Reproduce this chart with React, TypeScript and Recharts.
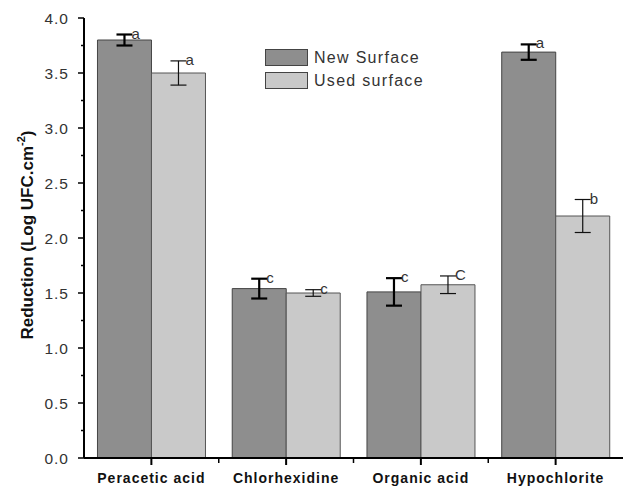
import React from "react"
import { BarChart, Bar, XAxis, YAxis, ErrorBar, LabelList, Legend } from "recharts"

const categories = ["Peracetic acid", "Chlorhexidine", "Organic acid", "Hypochlorite"]
const newSurface = [3.8, 1.54, 1.51, 3.69]
const newErr = [0.05, 0.09, 0.125, 0.07]
const newLetters = ["a", "c", "c", "a"]
const usedSurface = [3.5, 1.5, 1.575, 2.2]
const usedErr = [0.11, 0.03, 0.08, 0.15]
const usedLetters = ["a", "c", "C", "b"]
const yTicks = [0, 0.25, 0.5, 0.75, 1, 1.25, 1.5, 1.75, 2, 2.25, 2.5, 2.75, 3, 3.25, 3.5, 3.75, 4]

const data = categories.map((name, i) => ({
  name,
  newS: newSurface[i],
  newErr: newErr[i],
  used: usedSurface[i],
  usedErr: usedErr[i],
}))

const FONT = "'Liberation Sans', Arial, sans-serif"
const DARK = "#8e8e8e"
const LIGHT = "#c9c9c9"

function YTick(props: any) {
  const { x, y, payload } = props
  const v = payload.value as number
  const major = Math.abs(v * 2 - Math.round(v * 2)) < 1e-6
  return (
    <g>
      <line x1={x} x2={x - (major ? 6 : 3)} y1={y} y2={y} stroke="#000" strokeWidth={1.5} />
      {major && (
        <text x={x - 15} y={y + 5.5} textAnchor="end" fontSize={15.5} fill="#333" fontFamily={FONT} letterSpacing={1}>
          {v.toFixed(1)}
        </text>
      )}
    </g>
  )
}

function XTick(props: any) {
  const { x, y, payload, index } = props
  const off = payload.offset ?? 0
  return (
    <g>
      <line x1={x} x2={x} y1={y} y2={y + 7} stroke="#000" strokeWidth={2} />
      {index > 0 && <line x1={x - off} x2={x - off} y1={y} y2={y + 5} stroke="#000" strokeWidth={1.5} />}
      <text x={x} y={y + 25} textAnchor="middle" fontSize={14} fontWeight="bold" fill="#111" fontFamily={FONT} letterSpacing={1}>
        {payload.value}
      </text>
    </g>
  )
}

const letterLabel = (letters: string[], errs: number[]) => (props: any) => {
  const { x, y, width, height, value, index } = props
  const pxPer = height / value
  const top = y - errs[index] * pxPer
  return (
    <text x={x + width / 2 + 7} y={top + 4} fontSize={15} fill="#333" fontFamily={FONT}>
      {letters[index]}
    </text>
  )
}

function LegendBox() {
  const items = [
    { label: "New Surface", fill: DARK },
    { label: "Used surface", fill: LIGHT },
  ]
  return (
    <div style={{ fontFamily: FONT }}>
      {items.map((it) => (
        <div key={it.label} style={{ display: "flex", alignItems: "center", height: 23 }}>
          <div style={{ width: 41, height: 15, background: it.fill, border: "1px solid #444" }} />
          <span style={{ marginLeft: 6, fontSize: 16, color: "#333", letterSpacing: 1.3 }}>{it.label}</span>
        </div>
      ))}
    </div>
  )
}

export default function App() {
  return (
    <div style={{ position: "absolute", left: 0, top: 0, background: "#fff" }}>
      <BarChart
        width={625}
        height={488}
        data={data}
        margin={{ top: 18, right: 2, bottom: 0, left: 0 }}
        barCategoryGap="10%"
        barGap={0}
      >
        <XAxis
          dataKey="name"
          height={30}
          tickLine={false}
          tickSize={0}
          tickMargin={0}
          interval={0}
          axisLine={{ stroke: "#000", strokeWidth: 2 }}
          tick={<XTick />}
        />
        <XAxis xAxisId="top" dataKey="name" orientation="top" height={0} tick={false} tickLine={false} axisLine={{ stroke: "#000", strokeWidth: 2 }} />
        <YAxis
          width={84}
          domain={[0, 4]}
          ticks={yTicks}
          interval={0}
          tickLine={false}
          tickSize={0}
          tickMargin={0}
          axisLine={{ stroke: "#000", strokeWidth: 2 }}
          tick={<YTick />}
          label={{
            content: (p: any) => {
              const vb = p.viewBox || { y: 18, height: 440 }
              const cy = vb.y + vb.height / 2 - 3
              return (
                <text
                  transform={`translate(33, ${cy}) rotate(-90)`}
                  textAnchor="middle"
                  fontSize={17}
                  fontWeight="bold"
                  fill="#111"
                  fontFamily={FONT}
                >
                  Reduction (Log UFC.cm
                  <tspan fontSize={11} dy={-8}>-2</tspan>
                  <tspan dy={8}>)</tspan>
                </text>
              )
            },
          }}
        />
        <YAxis yAxisId="r" orientation="right" width={0} domain={[0, 4]} tick={false} tickLine={false} axisLine={{ stroke: "#000", strokeWidth: 2 }} />
        <Legend
          content={<LegendBox />}
          layout="vertical"
          verticalAlign="middle"
          align="center"
          wrapperStyle={{ left: 265, top: 46, width: 220 }}
        />
        <Bar dataKey="newS" fill={DARK} stroke="#444" strokeWidth={1} isAnimationActive={false}>
          <ErrorBar dataKey="newErr" width={8} stroke="#000" strokeWidth={2.2} />
          <LabelList dataKey="newS" content={letterLabel(newLetters, newErr)} />
        </Bar>
        <Bar dataKey="used" fill={LIGHT} stroke="#555" strokeWidth={1} isAnimationActive={false}>
          <ErrorBar dataKey="usedErr" width={8} stroke="#111" strokeWidth={1.2} />
          <LabelList dataKey="used" content={letterLabel(usedLetters, usedErr)} />
        </Bar>
      </BarChart>
    </div>
  )
}
